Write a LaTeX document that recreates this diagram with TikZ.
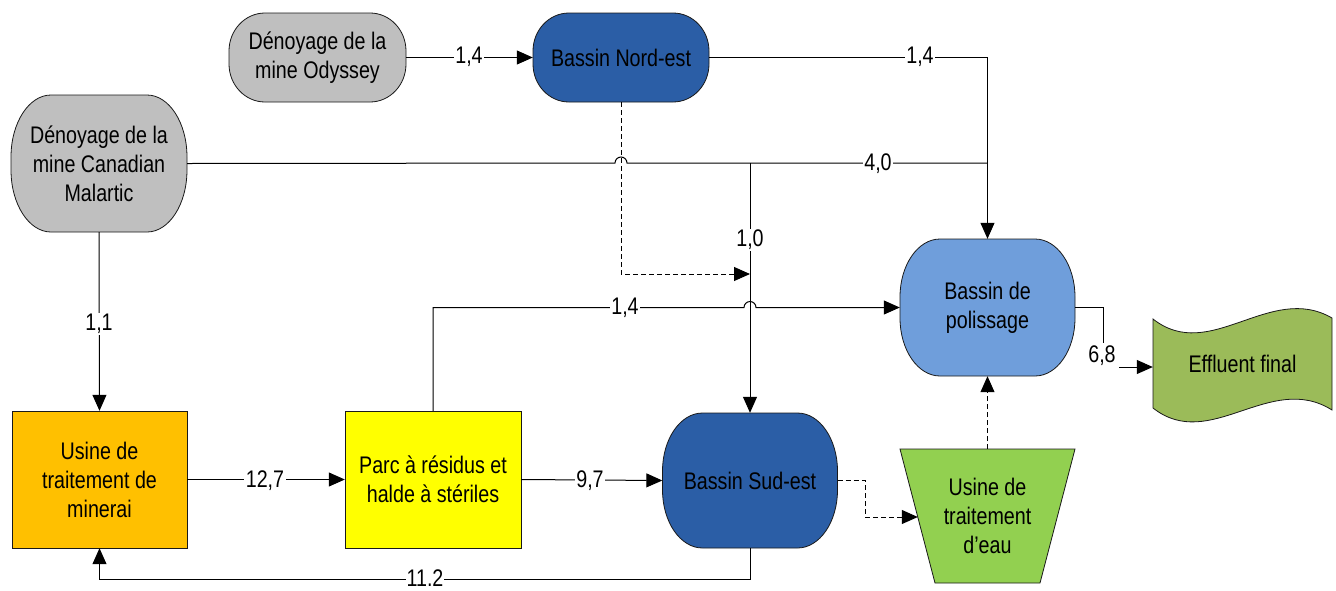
\documentclass[tikz,border=0pt]{standalone}
\usepackage{fontspec}
\setmainfont{Liberation Sans}[FakeStretch=0.82]
\usetikzlibrary{arrows.meta}
\definecolor{grayfill}{HTML}{BFBFBF}
\definecolor{darkblue}{HTML}{2B5EA6}
\definecolor{lightblue}{HTML}{6F9EDB}
\definecolor{orangefill}{HTML}{FFC000}
\definecolor{yellowfill}{HTML}{FFFF00}
\definecolor{greenfill}{HTML}{92D050}
\definecolor{olivefill}{HTML}{9BBB59}
\newcommand\ovalshape[7]{%
  \filldraw[shapeline, fill=#7] ({#1+#5},#2) -- ({#3-#5},#2)
    arc[start angle=270,end angle=360,x radius=#5,y radius=#6] -- (#3,{#4-#6})
    arc[start angle=0,end angle=90,x radius=#5,y radius=#6] -- ({#1+#5},#4)
    arc[start angle=90,end angle=180,x radius=#5,y radius=#6] -- (#1,{#2+#6})
    arc[start angle=180,end angle=270,x radius=#5,y radius=#6] -- cycle;}
\tikzset{
  shapeline/.style={draw=black!90, line width=0.8pt},
  txt/.style={align=center, font=\fontsize{24}{29}\selectfont, text=black, inner sep=0pt},
  lbl/.style={fill=white, inner sep=1.5pt, font=\fontsize{24}{29}\selectfont, text=black},
  plainline/.style={line width=1pt, draw=black},
  conn/.style={plainline, -{Triangle[length=16pt,width=14pt]}},
  dashline/.style={dash pattern=on 5pt off 3pt}
}
\begin{document}
\begin{tikzpicture}[x=1pt,y=-1pt]
\useasboundingbox (0,0) rectangle (1336,590);
% shapes
\ovalshape{229}{13}{406}{102}{36}{38}{grayfill}
\node[txt, minimum width=177pt, minimum height=89pt] (ody) at (317.5,57.5) {Dénoyage de la\\mine Odyssey};
\ovalshape{533}{13}{709}{102}{36}{38}{darkblue}
\node[txt, minimum width=176pt, minimum height=89pt] (ne) at (621,57.5) {Bassin Nord-est};
\ovalshape{11}{95}{187}{232}{40}{62}{grayfill}
\node[txt, minimum width=176pt, minimum height=137pt] (can) at (99,163.5) {Dénoyage de la\\mine Canadian\\Malartic};
\ovalshape{900}{239}{1075}{376}{40}{58}{lightblue}
\node[txt, minimum width=175pt, minimum height=137pt] (pol) at (987.5,307.5) {Bassin de\\polissage};
\ovalshape{662.5}{413}{837.5}{548}{40}{58}{darkblue}
\node[txt, minimum width=175pt, minimum height=135pt] (sud) at (750,480.5) {Bassin Sud-est};
\filldraw[shapeline, fill=orangefill] (12,411) rectangle (187,548);
\node[txt, minimum width=175pt, minimum height=137pt] (min) at (99.5,479.5) {Usine de\\traitement de\\minerai};
\filldraw[shapeline, fill=yellowfill] (345,411) rectangle (521,548);
\node[txt, minimum width=176pt, minimum height=137pt] (parc) at (433,479.5) {Parc à résidus et\\halde à stériles};
\filldraw[shapeline, fill=greenfill] (900,449) -- (1075,449) -- (1040,583) -- (935,583) -- cycle;
\node[txt] (eau) at (987.5,516) {Usine de\\traitement\\d’eau};
\coordinate (trapL) at (917.8,517);
\coordinate (trapT) at (987.5,449);
\filldraw[shapeline, fill=olivefill] (1153,319) .. controls (1210,364) and (1270,282) .. (1332,318)
  -- (1332,410) .. controls (1270,371) and (1210,453) .. (1153,408) -- cycle;
\node[txt, minimum width=179pt, minimum height=90pt] (eff) at (1242.5,364) {Effluent final};
% connectors
\coordinate (j1) at (750,163);
\coordinate (j2) at (987.5,163);
\draw[conn] (ody.east) -- (ne.west);
\draw[conn] (ne.east) -| (pol.north);
\draw[plainline] (can.east) -- (615,163) arc[start angle=180,end angle=360,radius=6] -- (j2);
\draw[conn] (j1) -- (j1 |- sud.north);
\draw[conn, dashline] (ne.south) |- (j1 |- 0,274);
\draw[conn] (parc.north) -- (433,307.5) -- (744,307.5) arc[start angle=180,end angle=360,radius=6] -- (pol.west);
\draw[conn] (can.south) -- (min.north);
\draw[conn] (min.east) -- (parc.west |- min.east);
\draw[conn] (parc.east) -- (sud.west);
\draw[conn] (sud.south) -- (750,579) -| (min.south);
\draw[conn, dashline] (sud.east) -- (865,480.5) |- (trapL);
\draw[conn, dashline] (trapT) -- (pol.south);
\draw[conn] (pol.east) -- (1103,307.5) -- (1103,367) -- (eff.west |- 0,367);
% labels
\node[lbl] (l1) at (469,57) {1,4};
\node[lbl] (l2) at (920,57) {1,4};
\node[lbl] (l3) at (878,164) {4,0};
\node[lbl] (l4) at (750,240) {1,0};
\node[lbl] (l5) at (99,324) {1,1};
\node[lbl] (l6) at (625,307.5) {1,4};
\node[lbl] (l7) at (265,481) {12,7};
\node[lbl] (l8) at (590,481) {9,7};
\node[lbl, inner sep=0.5pt] (l9) at (425,578) {11.2};
\node[lbl, inner sep=3pt] (l10) at (1102,356) {6,8};
\end{tikzpicture}
\end{document}
